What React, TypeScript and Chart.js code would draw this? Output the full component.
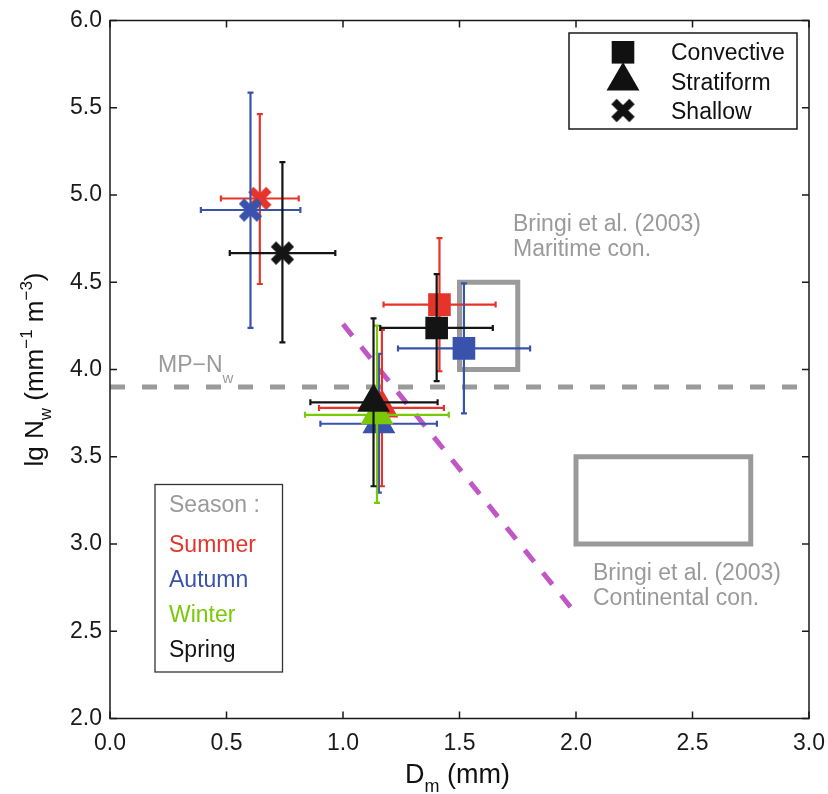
import React, { useEffect, useRef } from 'react';
import { Chart, registerables } from 'chart.js';

Chart.register(...registerables);

const FONT = '"Liberation Sans", Arial, Helvetica, sans-serif';

// ---- data ----
const seasonNames = ['Summer', 'Autumn', 'Winter', 'Spring'];
const seasonColors = ['#e5352b', '#3953ad', '#79c80a', '#141414'];

const xTickValues = [0, 0.5, 1, 1.5, 2, 2.5, 3];
const yTickValues = [2, 2.5, 3, 3.5, 4, 4.5, 5, 5.5, 6];

// Convective
const convectiveSeason = ['Summer', 'Autumn', 'Spring'];
const convectiveDm = [1.414, 1.519, 1.402];
const convectiveDmLow = [1.174, 1.236, 1.16];
const convectiveDmHigh = [1.655, 1.803, 1.643];
const convectiveNw = [4.372, 4.121, 4.238];
const convectiveNwLow = [3.99, 3.749, 3.933];
const convectiveNwHigh = [4.753, 4.494, 4.547];

// Stratiform
const stratiformSeason = ['Summer', 'Autumn', 'Winter', 'Spring'];
const stratiformDm = [1.167, 1.154, 1.146, 1.131];
const stratiformDmLow = [0.897, 0.903, 0.837, 0.86];
const stratiformDmHigh = [1.433, 1.403, 1.454, 1.406];
const stratiformNw = [3.78, 3.689, 3.74, 3.812];
const stratiformNwLow = [3.331, 3.294, 3.236, 3.331];
const stratiformNwHigh = [4.227, 4.089, 4.251, 4.293];

// Shallow
const shallowSeason = ['Summer', 'Autumn', 'Spring'];
const shallowDm = [0.643, 0.603, 0.74];
const shallowDmLow = [0.476, 0.39, 0.514];
const shallowDmHigh = [0.81, 0.817, 0.967];
const shallowNw = [4.98, 4.914, 4.667];
const shallowNwLow = [4.49, 4.238, 4.156];
const shallowNwHigh = [5.463, 5.587, 5.188];

// Reference lines / boxes
const mpNwX = [0, 3];
const mpNwY = [3.9, 3.9];
const purpleX = [1.0, 2.0];
const purpleY = [4.26, 2.6];
const maritimeBoxX = [1.5, 1.75, 1.75, 1.5, 1.5];
const maritimeBoxY = [4.0, 4.0, 4.5, 4.5, 4.0];
const continentalBoxX = [2.0, 2.75, 2.75, 2.0, 2.0];
const continentalBoxY = [3.0, 3.0, 3.5, 3.5, 3.0];

function colorOf(season: string) {
  return seasonColors[seasonNames.indexOf(season)];
}

function makeCross(color: string) {
  const c = document.createElement('canvas');
  c.width = 27;
  c.height = 27;
  const g = c.getContext('2d')!;
  g.strokeStyle = color;
  g.lineWidth = 7.5;
  g.lineCap = 'butt';
  g.beginPath();
  g.moveTo(4.5, 4.5);
  g.lineTo(22.5, 22.5);
  g.moveTo(22.5, 4.5);
  g.lineTo(4.5, 22.5);
  g.stroke();
  return c;
}

type Part = { t: string; s: number; dy: number };

function partsWidth(ctx: CanvasRenderingContext2D, parts: Part[]) {
  let w = 0;
  for (const p of parts) {
    ctx.font = `${p.s}px ${FONT}`;
    w += ctx.measureText(p.t).width;
  }
  return w;
}

function drawParts(ctx: CanvasRenderingContext2D, parts: Part[], x: number, y: number) {
  let cx = x;
  for (const p of parts) {
    ctx.font = `${p.s}px ${FONT}`;
    ctx.fillText(p.t, cx, y + p.dy);
    cx += ctx.measureText(p.t).width;
  }
}

const overlayPlugin = {
  id: 'overlayPlugin',
  beforeDatasetDraw(chart: any, args: any) {
    const ds = chart.data.datasets[args.index];
    if (!ds.err) return;
    const xs = chart.scales.x;
    const ys = chart.scales.y;
    const ctx: CanvasRenderingContext2D = chart.ctx;
    const e = ds.err;
    const px = xs.getPixelForValue(ds.data[0].x);
    const py = ys.getPixelForValue(ds.data[0].y);
    const x0 = xs.getPixelForValue(e.xLo);
    const x1 = xs.getPixelForValue(e.xHi);
    const y0 = ys.getPixelForValue(e.yLo);
    const y1 = ys.getPixelForValue(e.yHi);
    const c = 3;
    ctx.save();
    ctx.strokeStyle = ds.errColor;
    ctx.lineWidth = 2.2;
    ctx.beginPath();
    ctx.moveTo(x0, py);
    ctx.lineTo(x1, py);
    ctx.moveTo(px, y0);
    ctx.lineTo(px, y1);
    ctx.moveTo(x0, py - c);
    ctx.lineTo(x0, py + c);
    ctx.moveTo(x1, py - c);
    ctx.lineTo(x1, py + c);
    ctx.moveTo(px - c, y0);
    ctx.lineTo(px + c, y0);
    ctx.moveTo(px - c, y1);
    ctx.lineTo(px + c, y1);
    ctx.stroke();
    ctx.restore();
  },
  afterDraw(chart: any) {
    const ctx: CanvasRenderingContext2D = chart.ctx;
    const { left, right, top, bottom } = chart.chartArea;
    const xs = chart.scales.x;
    const ys = chart.scales.y;
    ctx.save();
    // frame
    ctx.strokeStyle = '#1a1a1a';
    ctx.lineWidth = 1.5;
    ctx.strokeRect(left, top, right - left, bottom - top);
    // inward ticks
    ctx.beginPath();
    const tl = 7;
    for (const v of xTickValues) {
      const p = xs.getPixelForValue(v);
      ctx.moveTo(p, bottom);
      ctx.lineTo(p, bottom - tl);
      ctx.moveTo(p, top);
      ctx.lineTo(p, top + tl);
    }
    for (const v of yTickValues) {
      const p = ys.getPixelForValue(v);
      ctx.moveTo(left, p);
      ctx.lineTo(left + tl, p);
      ctx.moveTo(right, p);
      ctx.lineTo(right - tl, p);
    }
    ctx.stroke();

    ctx.textBaseline = 'alphabetic';
    ctx.textAlign = 'left';

    // x title
    ctx.fillStyle = '#111';
    const xParts: Part[] = [
      { t: 'D', s: 27, dy: 0 },
      { t: 'm', s: 18, dy: 9 },
      { t: ' (mm)', s: 27, dy: 0 },
    ];
    const xw = partsWidth(ctx, xParts);
    drawParts(ctx, xParts, (left + right) / 2 - xw / 2 - 2, 783);

    // y title
    const yParts: Part[] = [
      { t: 'lg N', s: 26, dy: 0 },
      { t: 'w', s: 17, dy: 8 },
      { t: ' (mm', s: 26, dy: 0 },
      { t: '\u22121', s: 17, dy: -11 },
      { t: ' m', s: 26, dy: 0 },
      { t: '\u22123', s: 17, dy: -11 },
      { t: ')', s: 26, dy: 0 },
    ];
    const yw = partsWidth(ctx, yParts);
    ctx.save();
    ctx.translate(43, (top + bottom) / 2);
    ctx.rotate(-Math.PI / 2);
    drawParts(ctx, yParts, -yw / 2, 0);
    ctx.restore();

    // annotations
    ctx.fillStyle = '#9a9a9a';
    ctx.font = `23px ${FONT}`;
    ctx.fillText('Bringi et al. (2003)', 513, 231);
    ctx.fillText('Maritime con.', 513, 256);
    ctx.fillText('Bringi et al. (2003)', 593, 580);
    ctx.fillText('Continental con.', 593, 605);
    drawParts(ctx, [
      { t: 'MP\u2212N', s: 23, dy: 0 },
      { t: 'w', s: 15, dy: 11 },
    ], 158, 371.5);

    // type legend
    ctx.strokeStyle = '#1a1a1a';
    ctx.lineWidth = 1.5;
    ctx.strokeRect(569, 33, 228, 96);
    ctx.fillStyle = '#111';
    const lx = 623;
    // triangle
    const tr = 19;
    const tcy = 81;
    ctx.beginPath();
    ctx.moveTo(lx, tcy - tr);
    ctx.lineTo(lx + tr * Math.sin((2 * Math.PI) / 3), tcy + tr / 2);
    ctx.lineTo(lx - tr * Math.sin((2 * Math.PI) / 3), tcy + tr / 2);
    ctx.closePath();
    ctx.fill();
    // square
    ctx.fillRect(lx - 11.3, 52.3 - 11.3, 22.6, 22.6);
    // cross
    ctx.drawImage(makeCross('#111'), lx - 13.5, 110.5 - 13.5);
    ctx.font = `23px ${FONT}`;
    ctx.fillText('Convective', 671, 59.5);
    ctx.fillText('Stratiform', 671, 90);
    ctx.fillText('Shallow', 671, 118.5);

    // season legend
    ctx.strokeStyle = '#333';
    ctx.lineWidth = 1.3;
    ctx.strokeRect(155, 484.5, 127.5, 187.5);
    ctx.fillStyle = '#9a9a9a';
    ctx.fillText('Season :', 169, 511.5);
    const sy = [552, 587, 622, 657];
    seasonNames.forEach((n, i) => {
      ctx.fillStyle = seasonColors[i];
      ctx.fillText(n, 169, sy[i]);
    });
    ctx.restore();
  },
};

export default function App() {
  const ref = useRef<HTMLCanvasElement>(null);

  useEffect(() => {
    if (!ref.current) return;
    const crosses: Record<string, HTMLCanvasElement> = {};
    seasonNames.forEach((n, i) => (crosses[n] = makeCross(seasonColors[i])));

    const lineDs = (xv: number[], yv: number[], color: string, width: number, dash: number[], cap: string) => ({
      type: 'scatter',
      data: xv.map((x, i) => ({ x, y: yv[i] })),
      showLine: true,
      borderColor: color,
      borderWidth: width,
      borderDash: dash,
      pointRadius: 0,
      fill: false,
      borderCapStyle: cap,
      borderJoinStyle: 'miter',
    });

    const drawSeq: any[] = [];
    drawSeq.push(lineDs(maritimeBoxX, maritimeBoxY, '#9a9a9a', 5, [], 'square'));
    drawSeq.push(lineDs(continentalBoxX, continentalBoxY, '#9a9a9a', 5, [], 'square'));
    drawSeq.push(lineDs(mpNwX, mpNwY, '#9a9a9a', 5, [15, 17], 'butt'));
    drawSeq.push(lineDs(purpleX, purpleY, '#c057c4', 5, [15, 14], 'butt'));

    const addGroup = (
      seasons: string[], dm: number[], dmLo: number[], dmHi: number[],
      nw: number[], nwLo: number[], nwHi: number[], style: string,
    ) => {
      seasons.forEach((s, i) => {
        const col = colorOf(s);
        const ps: any = style === 'cross' ? crosses[s] : style;
        drawSeq.push({
          type: 'scatter',
          label: `${style}-${s}`,
          data: [{ x: dm[i], y: nw[i] }],
          pointStyle: ps,
          pointRadius: style === 'rect' ? 16 : style === 'triangle' ? 19 : 13,
          backgroundColor: col,
          borderColor: col,
          borderWidth: 0,
          err: { xLo: dmLo[i], xHi: dmHi[i], yLo: nwLo[i], yHi: nwHi[i] },
          errColor: col,
        });
      });
    };

    addGroup(shallowSeason, shallowDm, shallowDmLow, shallowDmHigh, shallowNw, shallowNwLow, shallowNwHigh, 'cross');
    addGroup(stratiformSeason, stratiformDm, stratiformDmLow, stratiformDmHigh, stratiformNw, stratiformNwLow, stratiformNwHigh, 'triangle');
    addGroup(convectiveSeason, convectiveDm, convectiveDmLow, convectiveDmHigh, convectiveNw, convectiveNwLow, convectiveNwHigh, 'rect');

    const n = drawSeq.length;
    drawSeq.forEach((d, i) => (d.order = n - i));

    const chart = new Chart(ref.current, {
      type: 'scatter',
      data: { datasets: drawSeq },
      plugins: [overlayPlugin as any],
      options: {
        animation: false,
        responsive: false,
        devicePixelRatio: 1,
        events: [],
        layout: { padding: { top: 20.5, right: 18, bottom: 0, left: 0 } },
        plugins: {
          legend: { display: false },
          tooltip: { enabled: false },
        },
        scales: {
          x: {
            type: 'linear',
            min: 0,
            max: 3,
            afterBuildTicks: (s: any) => {
              s.ticks = xTickValues.map((v) => ({ value: v }));
            },
            afterFit: (s: any) => {
              s.height = 75.5;
              s.paddingLeft = 0;
              s.paddingRight = 0;
            },
            ticks: {
              callback: (v: any) => Number(v).toFixed(1),
              font: { family: FONT, size: 23 },
              color: '#1a1a1a',
              padding: 11,
              maxRotation: 0,
              autoSkip: false,
            },
            grid: { display: false, drawTicks: false },
            border: { display: false },
          },
          y: {
            type: 'linear',
            min: 2,
            max: 6,
            afterBuildTicks: (s: any) => {
              s.ticks = yTickValues.map((v) => ({ value: v }));
            },
            afterFit: (s: any) => {
              s.width = 110;
              s.paddingTop = 0;
              s.paddingBottom = 0;
            },
            ticks: {
              callback: (v: any) => Number(v).toFixed(1),
              font: { family: FONT, size: 23 },
              color: '#1a1a1a',
              padding: 8,
              autoSkip: false,
            },
            grid: { display: false, drawTicks: false },
            border: { display: false },
          },
        },
      } as any,
    });
    return () => chart.destroy();
  }, []);

  return (
    <div style={{ position: 'fixed', left: 0, top: 0, width: 828, height: 794, background: '#fff' }}>
      <canvas ref={ref} width={828} height={794} style={{ width: 828, height: 794, display: 'block' }} />
    </div>
  );
}
